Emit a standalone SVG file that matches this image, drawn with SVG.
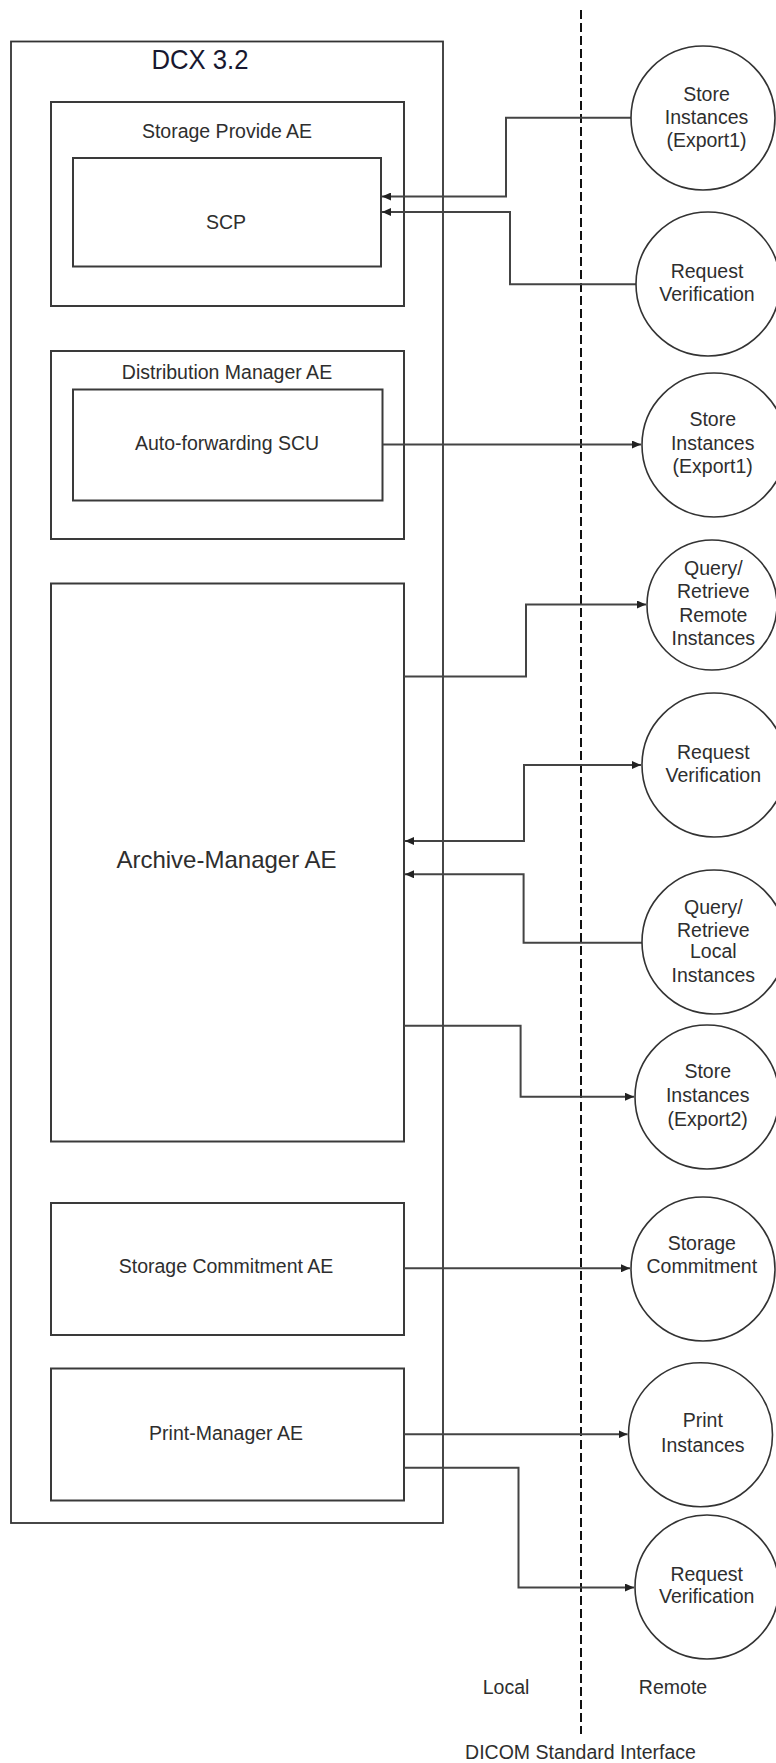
<svg xmlns="http://www.w3.org/2000/svg" width="776" height="1763" viewBox="0 0 776 1763">
<style>
.box{fill:none;stroke:#3a3a3a;stroke-width:2}
.outer{fill:none;stroke:#333;stroke-width:1.8}
.circ{fill:#fff;stroke:#333;stroke-width:1.6}
.lbl{font-family:"Liberation Sans",Arial,sans-serif;font-size:19.5px;fill:#2e2e2e;text-anchor:middle}
.big{font-family:"Liberation Sans",Arial,sans-serif;font-size:24px;fill:#2e2e2e;text-anchor:middle}
.title{font-family:"Liberation Sans",Arial,sans-serif;font-size:28px;fill:#181830}
.conn{fill:none;stroke:#444;stroke-width:2}
.dash{fill:none;stroke:#111;stroke-width:2;stroke-dasharray:9 4}
</style>
<defs>
<marker id="arr" markerUnits="userSpaceOnUse" markerWidth="10" markerHeight="8" refX="9" refY="4" orient="auto-start-reverse">
<path d="M0,0 L9,4 L0,8 z" fill="#222"/>
</marker>
</defs>
<rect width="776" height="1763" fill="#fff"/>

<g id="interface">
<line class="dash" x1="581" y1="10" x2="581" y2="1734"/>
<text class="lbl" x="506" y="1694">Local</text>
<text class="lbl" x="673" y="1694">Remote</text>
<text class="lbl" x="580.5" y="1759">DICOM Standard Interface</text>
</g>

<g id="dcx">
<rect class="outer" x="11" y="41.5" width="432" height="1481.5"/>
<text class="title" x="151.5" y="69" textLength="97" lengthAdjust="spacingAndGlyphs">DCX 3.2</text>
</g>

<g id="storage-provide-ae">
<rect class="box" x="51" y="102" width="353" height="204"/>
<text class="lbl" x="227" y="138">Storage Provide AE</text>
</g>
<g id="scp">
<rect class="box" x="73" y="158" width="308" height="108.5"/>
<text class="lbl" x="226" y="229">SCP</text>
</g>

<g id="distribution-manager-ae">
<rect class="box" x="51" y="351" width="353" height="188"/>
<text class="lbl" x="227" y="379">Distribution Manager AE</text>
</g>
<g id="auto-forwarding-scu">
<rect class="box" x="73" y="389.5" width="309.5" height="111"/>
<text class="lbl" x="227" y="450">Auto-forwarding SCU</text>
</g>

<g id="archive-manager-ae">
<rect class="box" x="51" y="583.5" width="353" height="558"/>
<text class="big" x="226.5" y="868">Archive-Manager AE</text>
</g>

<g id="storage-commitment-ae">
<rect class="box" x="51" y="1203" width="353" height="132"/>
<text class="lbl" x="226" y="1273">Storage Commitment AE</text>
</g>

<g id="print-manager-ae">
<rect class="box" x="51" y="1368.5" width="353" height="132"/>
<text class="lbl" x="226" y="1440">Print-Manager AE</text>
</g>

<g id="connectors">
<polyline class="conn" points="631,117.7 506,117.7 506,196.5 382,196.5" marker-end="url(#arr)"/>
<polyline class="conn" points="636,284.3 510,284.3 510,212 382,212" marker-end="url(#arr)"/>
<polyline class="conn" points="382.6,444.5 641,444.5" marker-end="url(#arr)"/>
<polyline class="conn" points="404,676.5 526,676.5 526,604.5 646,604.5" marker-end="url(#arr)"/>
<polyline class="conn" points="405,841 524,841 524,765 641,765" marker-start="url(#arr)" marker-end="url(#arr)"/>
<polyline class="conn" points="642,942.7 523.6,942.7 523.6,874.3 405,874.3" marker-end="url(#arr)"/>
<polyline class="conn" points="404,1025.7 520.6,1025.7 520.6,1096.7 634,1096.7" marker-end="url(#arr)"/>
<polyline class="conn" points="404,1268.3 630,1268.3" marker-end="url(#arr)"/>
<polyline class="conn" points="404,1434.3 627.5,1434.3" marker-end="url(#arr)"/>
<polyline class="conn" points="404,1467.7 518.5,1467.7 518.5,1587.5 634,1587.5" marker-end="url(#arr)"/>
</g>

<g id="store-instances-export1-a">
<circle class="circ" cx="703" cy="118" r="72"/>
<text class="lbl" x="706.5" y="101">Store</text>
<text class="lbl" x="706.5" y="124">Instances</text>
<text class="lbl" x="706.5" y="147">(Export1)</text>
</g>
<g id="request-verification-a">
<circle class="circ" cx="708" cy="284" r="72"/>
<text class="lbl" x="707" y="278.3">Request</text>
<text class="lbl" x="707" y="300.5">Verification</text>
</g>
<g id="store-instances-export1-b">
<circle class="circ" cx="714" cy="445" r="72"/>
<text class="lbl" x="712.7" y="426">Store</text>
<text class="lbl" x="712.7" y="450">Instances</text>
<text class="lbl" x="712.7" y="473.3">(Export1)</text>
</g>
<g id="query-retrieve-remote">
<circle class="circ" cx="712" cy="605" r="65"/>
<text class="lbl" x="713.3" y="575">Query/</text>
<text class="lbl" x="713.3" y="598.3">Retrieve</text>
<text class="lbl" x="713.3" y="621.7">Remote</text>
<text class="lbl" x="713.3" y="645">Instances</text>
</g>
<g id="request-verification-b">
<circle class="circ" cx="714" cy="765" r="72"/>
<text class="lbl" x="713.3" y="759.3">Request</text>
<text class="lbl" x="713.3" y="781.7">Verification</text>
</g>
<g id="query-retrieve-local">
<circle class="circ" cx="714" cy="942" r="72"/>
<text class="lbl" x="713.3" y="914">Query/</text>
<text class="lbl" x="713.3" y="936.7">Retrieve</text>
<text class="lbl" x="713.3" y="958.3">Local</text>
<text class="lbl" x="713.3" y="981.7">Instances</text>
</g>
<g id="store-instances-export2">
<circle class="circ" cx="707" cy="1097" r="72"/>
<text class="lbl" x="707.7" y="1078.3">Store</text>
<text class="lbl" x="707.7" y="1101.7">Instances</text>
<text class="lbl" x="707.7" y="1125.7">(Export2)</text>
</g>
<g id="storage-commitment">
<circle class="circ" cx="703" cy="1269" r="72"/>
<text class="lbl" x="701.8" y="1250">Storage</text>
<text class="lbl" x="701.8" y="1273.3">Commitment</text>
</g>
<g id="print-instances">
<circle class="circ" cx="700.5" cy="1434.7" r="72"/>
<text class="lbl" x="702.8" y="1427.3">Print</text>
<text class="lbl" x="702.8" y="1451.7">Instances</text>
</g>
<g id="request-verification-c">
<circle class="circ" cx="707" cy="1587" r="72"/>
<text class="lbl" x="706.7" y="1580.7">Request</text>
<text class="lbl" x="706.7" y="1603.3">Verification</text>
</g>
</svg>
